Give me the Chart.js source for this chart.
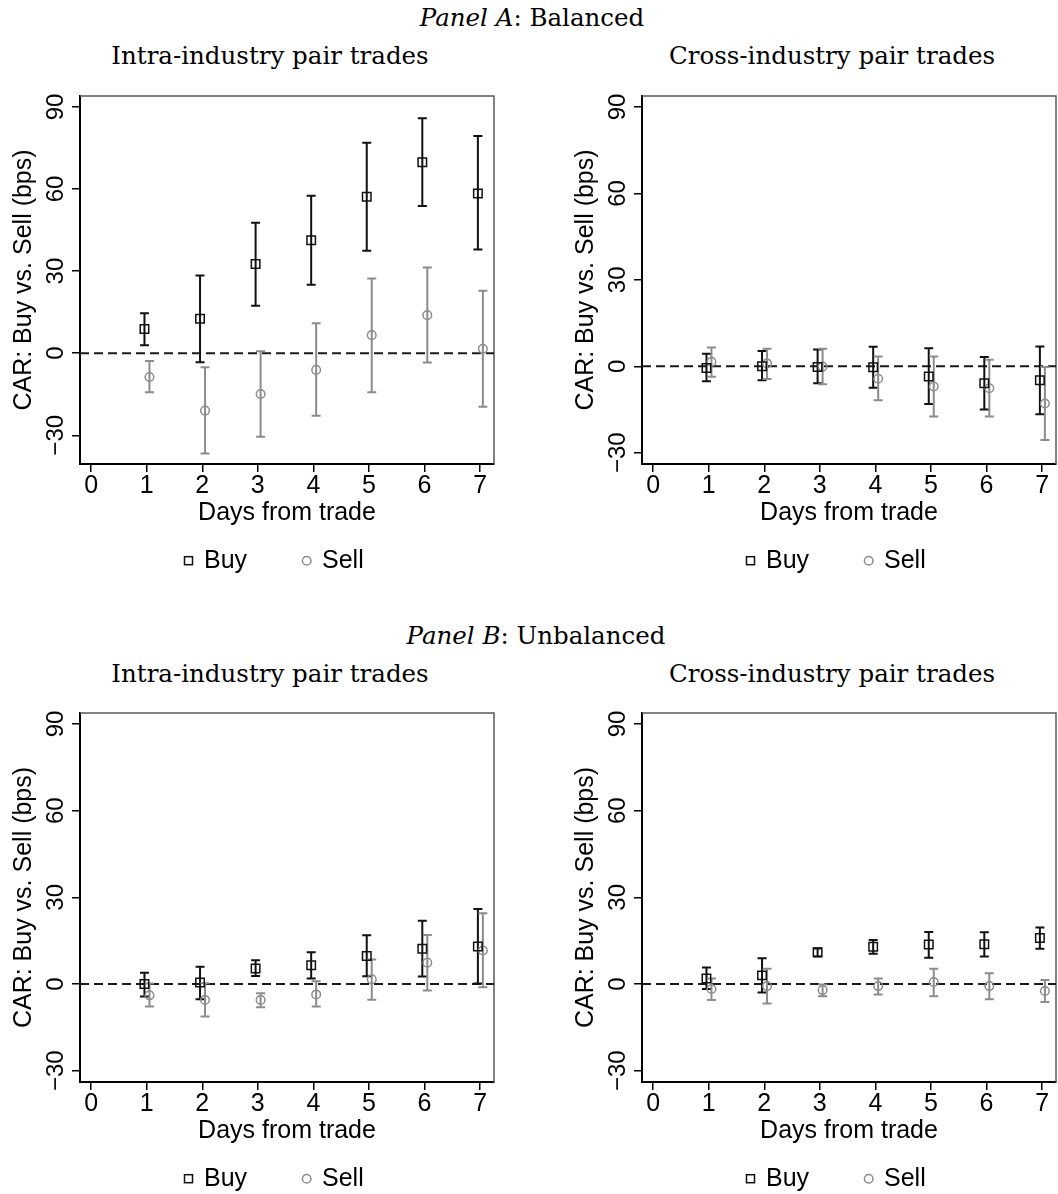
<!DOCTYPE html>
<html lang="en">
<head>
<meta charset="UTF-8">
<title>CAR: Buy vs. Sell</title>
<script src="https://cdn.jsdelivr.net/npm/chart.js"></script>
<style>
  body {
    margin: 0;
    width: 1058px;
    height: 1194px;
    overflow: hidden;
    position: relative;
    background: #fff;
    font-family: "Liberation Sans", Arial, sans-serif;
  }
  .ttl {
    position: absolute;
    font-family: "DejaVu Serif", serif;
    font-size: 24.5px;
    line-height: 1;
    color: #000;
    white-space: nowrap;
    transform: translateX(-50%);
  }
  canvas { position: absolute; }
</style>
</head>
<body>
  <div class="ttl" style="left:532px; top:6px"><i>Panel A</i>: Balanced</div>
  <div class="ttl" style="left:270px; top:44px">Intra-industry pair trades</div>
  <div class="ttl" style="left:832px; top:44px">Cross-industry pair trades</div>
  <canvas id="aIntra" width="540" height="518" style="left:0; top:86px"></canvas>
  <canvas id="aCross" width="540" height="518" style="left:562px; top:86px"></canvas>

  <div class="ttl" style="left:536px; top:624px"><i>Panel B</i>: Unbalanced</div>
  <div class="ttl" style="left:270px; top:662px">Intra-industry pair trades</div>
  <div class="ttl" style="left:832px; top:662px">Cross-industry pair trades</div>
  <canvas id="bIntra" width="540" height="519" style="left:0; top:703px"></canvas>
  <canvas id="bCross" width="540" height="519" style="left:562px; top:703px"></canvas>

<script>
// tick labels
const dayTicks = [0, 1, 2, 3, 4, 5, 6, 7];
const yTicks = [-30, 0, 30, 60, 90];
// days with estimates
const days = [1, 2, 3, 4, 5, 6, 7];

// Panel A, intra-industry
const aIntraBuy    = [8.8, 12.6, 32.6, 41.3, 57.2, 69.8, 58.4];
const aIntraBuyLo  = [2.9, -3.3, 17.3, 25.0, 37.4, 53.8, 37.9];
const aIntraBuyHi  = [14.6, 28.4, 47.7, 57.5, 76.9, 85.9, 79.4];
const aIntraSell   = [-8.7, -21.0, -14.9, -6.1, 6.6, 13.9, 1.6];
const aIntraSellLo = [-14.3, -36.7, -30.5, -22.9, -14.3, -3.4, -19.6];
const aIntraSellHi = [-2.9, -5.1, 0.7, 10.9, 27.3, 31.3, 22.8];

// Panel A, cross-industry
const aCrossBuy    = [-0.6, 0.0, -0.2, -0.3, -3.5, -5.9, -4.8];
const aCrossBuyLo  = [-5.2, -4.8, -5.9, -7.4, -13.1, -15.0, -16.6];
const aCrossBuyHi  = [4.4, 5.3, 5.8, 6.8, 6.3, 3.2, 6.9];
const aCrossSell   = [1.6, 1.0, -0.1, -4.3, -7.0, -7.6, -12.9];
const aCrossSellLo = [-3.6, -4.4, -6.2, -11.8, -17.4, -17.4, -25.6];
const aCrossSellHi = [6.5, 6.1, 6.1, 3.4, 3.4, 2.3, -0.2];

// Panel B, intra-industry
const bIntraBuy    = [0.0, 0.5, 5.4, 6.5, 9.7, 12.2, 13.0];
const bIntraBuyLo  = [-4.3, -5.3, 2.8, 1.9, 2.7, 2.6, 0.2];
const bIntraBuyHi  = [3.9, 6.0, 8.2, 11.0, 16.9, 21.9, 26.0];
const bIntraSell   = [-3.9, -5.5, -5.5, -3.6, 1.6, 7.4, 11.6];
const bIntraSellLo = [-7.8, -11.2, -8.0, -7.8, -5.4, -2.2, -1.1];
const bIntraSellHi = [0.2, 0.3, -3.2, 1.0, 8.5, 17.0, 24.5];

// Panel B, cross-industry
const bCrossBuy    = [1.9, 3.0, 11.0, 12.9, 13.7, 13.8, 15.9];
const bCrossBuyLo  = [-1.7, -2.9, 9.5, 10.5, 9.1, 9.5, 12.2];
const bCrossBuyHi  = [5.7, 8.9, 12.3, 15.2, 18.0, 17.9, 19.6];
const bCrossSell   = [-1.7, -0.7, -2.1, -0.7, 0.7, -0.7, -2.4];
const bCrossSellLo = [-5.5, -6.7, -4.2, -3.6, -4.2, -5.3, -6.2];
const bCrossSellHi = [1.9, 5.3, -0.2, 1.9, 5.3, 3.7, 1.4];

const BUY_COLOR = '#111111';
const SELL_COLOR = '#8c8c8c';
const SANS = '"Liberation Sans", Arial, sans-serif';

Chart.defaults.font.family = SANS;
Chart.defaults.color = '#000';

function fmtTick(v) {
    return v < 0 ? '\u2212' + Math.abs(v) : String(v);
}

// frame, zero line, error bars, rotated y labels and legend
const panelPlugin = {
    id: 'panelPlugin',
    beforeDatasetsDraw(chart) {
        const { ctx, chartArea: a, scales: { x, y } } = chart;
        ctx.save();
        ctx.strokeStyle = '#5a5a5a';
        ctx.lineWidth = 1.5;
        ctx.beginPath();
        ctx.moveTo(a.left, a.top);
        ctx.lineTo(a.right, a.top);
        ctx.lineTo(a.right, a.bottom);
        ctx.stroke();

        const y0 = y.getPixelForValue(0);
        ctx.setLineDash([9, 5]);
        ctx.strokeStyle = '#1a1a1a';
        ctx.lineWidth = 2;
        ctx.beginPath();
        ctx.moveTo(a.left, y0);
        ctx.lineTo(a.right, y0);
        ctx.stroke();
        ctx.setLineDash([]);

        chart.data.datasets.forEach(ds => {
            ctx.strokeStyle = ds.borderColor;
            ctx.lineWidth = 2;
            ds.data.forEach((p, i) => {
                const px = x.getPixelForValue(p.x);
                const lo = y.getPixelForValue(ds.errLo[i]);
                const hi = y.getPixelForValue(ds.errHi[i]);
                ctx.beginPath();
                ctx.moveTo(px, lo); ctx.lineTo(px, hi);
                ctx.moveTo(px - 4.5, lo); ctx.lineTo(px + 4.5, lo);
                ctx.moveTo(px - 4.5, hi); ctx.lineTo(px + 4.5, hi);
                ctx.stroke();
            });
        });
        ctx.restore();
    },
    afterDraw(chart) {
        const { ctx, chartArea: a, scales: { y } } = chart;
        ctx.save();
        // y tick labels, vertical
        ctx.font = '24px ' + SANS;
        ctx.fillStyle = '#000';
        ctx.textAlign = 'center';
        ctx.textBaseline = 'alphabetic';
        y.ticks.forEach(t => {
            ctx.save();
            ctx.translate(a.left - 16.7, y.getPixelForValue(t.value));
            ctx.rotate(-Math.PI / 2);
            ctx.fillText(fmtTick(t.value), 0, 0);
            ctx.restore();
        });

        // legend
        const ds = chart.data.datasets;
        const my = a.bottom + 96.7;
        ctx.lineWidth = 1.5;
        ctx.strokeStyle = ds[0].borderColor;
        ctx.strokeRect(a.left + 104.5, my - 4, 8, 8);
        ctx.strokeStyle = ds[1].borderColor;
        ctx.beginPath();
        ctx.arc(a.left + 226.7, my, 4.3, 0, Math.PI * 2);
        ctx.stroke();
        ctx.font = '25px ' + SANS;
        ctx.textAlign = 'left';
        ctx.fillText(ds[0].label, a.left + 124, a.bottom + 104.3);
        ctx.fillText(ds[1].label, a.left + 242, a.bottom + 104.3);
        ctx.restore();
    }
};

function makePanel(id, yMin, yMax, buy, buyLo, buyHi, sell, sellLo, sellHi) {
    const ctx = document.getElementById(id).getContext('2d');
    return new Chart(ctx, {
        type: 'scatter',
        data: {
            datasets: [
                {
                    label: 'Buy',
                    data: days.map((d, i) => ({ x: d - 0.04, y: buy[i] })),
                    errLo: buyLo,
                    errHi: buyHi,
                    pointStyle: 'rect',
                    pointRadius: 6,
                    borderColor: BUY_COLOR,
                    backgroundColor: 'rgba(0,0,0,0)',
                    borderWidth: 1.5
                },
                {
                    label: 'Sell',
                    data: days.map((d, i) => ({ x: d + 0.05, y: sell[i] })),
                    errLo: sellLo,
                    errHi: sellHi,
                    pointStyle: 'circle',
                    pointRadius: 4.3,
                    borderColor: SELL_COLOR,
                    backgroundColor: 'rgba(0,0,0,0)',
                    borderWidth: 1.5
                }
            ]
        },
        options: {
            responsive: false,
            animation: false,
            events: [],
            layout: { padding: { top: 10, right: 46, bottom: 76, left: 0 } },
            plugins: { legend: { display: false }, tooltip: { enabled: false } },
            scales: {
                x: {
                    type: 'linear',
                    min: -0.2,
                    max: 7.25,
                    afterBuildTicks: s => { s.ticks = dayTicks.map(v => ({ value: v })); },
                    afterFit: s => { s.height = 64; },
                    grid: { drawOnChartArea: false, drawTicks: true, tickLength: 8, color: '#000', lineWidth: 1.5 },
                    border: { display: true, color: '#000', width: 2 },
                    ticks: {
                        autoSkip: false, maxRotation: 0, padding: 0,
                        font: { size: 25, lineHeight: 1.1 }, color: '#000'
                    },
                    title: {
                        display: true, text: 'Days from trade',
                        font: { size: 25, lineHeight: 1.2 }, color: '#000',
                        padding: { top: 0, bottom: 0 }
                    }
                },
                y: {
                    type: 'linear',
                    min: yMin,
                    max: yMax,
                    afterBuildTicks: s => { s.ticks = yTicks.map(v => ({ value: v })); },
                    afterFit: s => { s.width = 80; },
                    grid: { drawOnChartArea: false, drawTicks: true, tickLength: 8, color: '#000', lineWidth: 1.5 },
                    border: { display: true, color: '#000', width: 2 },
                    ticks: { display: false },
                    title: {
                        display: true, text: 'CAR: Buy vs. Sell (bps)',
                        font: { size: 25, lineHeight: 1.2 }, color: '#000',
                        padding: { top: 9, bottom: 0 }
                    }
                }
            }
        },
        plugins: [panelPlugin]
    });
}

makePanel('aIntra', -40.5, 94, aIntraBuy, aIntraBuyLo, aIntraBuyHi, aIntraSell, aIntraSellLo, aIntraSellHi);
makePanel('aCross', -33.9, 93.8, aCrossBuy, aCrossBuyLo, aCrossBuyHi, aCrossSell, aCrossSellLo, aCrossSellHi);
makePanel('bIntra', -33.9, 93.8, bIntraBuy, bIntraBuyLo, bIntraBuyHi, bIntraSell, bIntraSellLo, bIntraSellHi);
makePanel('bCross', -33.9, 93.8, bCrossBuy, bCrossBuyLo, bCrossBuyHi, bCrossSell, bCrossSellLo, bCrossSellHi);
</script>
</body>
</html>
